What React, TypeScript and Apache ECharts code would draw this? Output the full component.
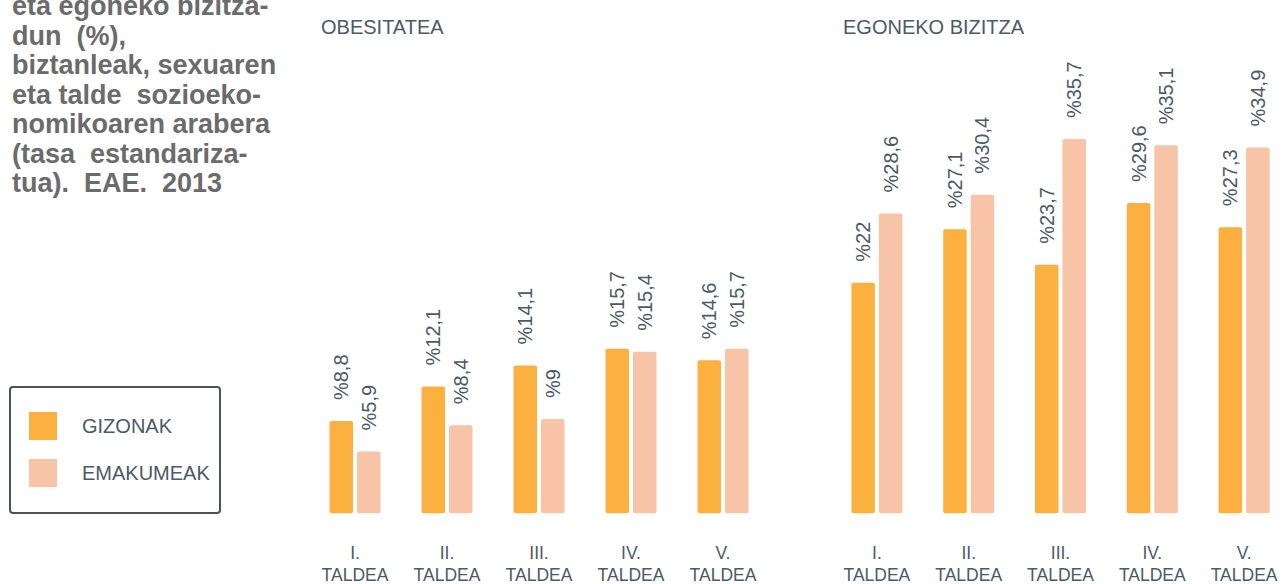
import React, { useEffect, useRef } from "react";
import * as echarts from "echarts";

const categories = ["I.\nTALDEA", "II.\nTALDEA", "III.\nTALDEA", "IV.\nTALDEA", "V.\nTALDEA"];
const obesityMen = [8.8, 12.1, 14.1, 15.7, 14.6];
const obesityWomen = [5.9, 8.4, 9, 15.4, 15.7];
const sedentaryMen = [22, 27.1, 23.7, 29.6, 27.3];
const sedentaryWomen = [28.6, 30.4, 35.7, 35.1, 34.9];
const seriesNames = ["GIZONAK", "EMAKUMEAK"];
const panelTitles = ["OBESITATEA", "EGONEKO BIZITZA"];
const titleLines = [
  "eta egoneko bizitza-",
  "dun  (%),",
  "biztanleak, sexuaren",
  "eta talde  sozioeko-",
  "nomikoaren arabera",
  "(tasa  estandariza-",
  "tua).  EAE.  2013",
];

const MEN_COLOR = "#FBB040";
const WOMEN_COLOR = "#F7C4A8";
const TEXT_COLOR = "#4B5A66";
const FONT = "'Liberation Sans', Arial, sans-serif";

export default function App() {
  const ref = useRef<HTMLDivElement>(null);
  useEffect(() => {
    if (!ref.current) return;
    const chart = echarts.init(ref.current, null, { renderer: "svg" });
    const label = {
      show: true,
      position: "top",
      distance: 21,
      rotate: 90,
      align: "left",
      verticalAlign: "middle",
      fontSize: 20,
      fontFamily: FONT,
      color: TEXT_COLOR,
      formatter: (p: any) => "%" + String(p.value).replace(".", ","),
    };
    const bar = (name: string, data: number[], idx: number, color: string) => ({
      type: "bar",
      name,
      data,
      xAxisIndex: idx,
      yAxisIndex: idx,
      barWidth: 23.5,
      barGap: "17%",
      itemStyle: { color, borderRadius: 2 },
      label,
    });
    const xAxis = (idx: number) => ({
      type: "category",
      gridIndex: idx,
      data: categories,
      axisLine: { show: false },
      axisTick: { show: false },
      axisLabel: {
        margin: 29,
        fontSize: 17.5,
        lineHeight: 22,
        color: TEXT_COLOR,
        fontFamily: FONT,
      },
    });
    const yAxis = (idx: number) => ({
      type: "value",
      gridIndex: idx,
      min: 0,
      max: 40,
      show: false,
      splitLine: { show: false },
    });
    chart.setOption({
      animation: false,
      textStyle: { fontFamily: FONT },
      grid: [
        { left: 309, width: 460, top: 94, height: 419.3, outerBoundsMode: "none", containLabel: false },
        { left: 831, width: 459, top: 94, height: 419.3, outerBoundsMode: "none", containLabel: false },
      ],
      xAxis: [xAxis(0), xAxis(1)],
      yAxis: [yAxis(0), yAxis(1)],
      legend: {
        data: seriesNames,
        orient: "vertical",
        left: 29,
        top: 412,
        itemWidth: 28,
        itemHeight: 28,
        itemGap: 19,
        icon: "rect",
        padding: 0,
        textStyle: { fontSize: 20, color: TEXT_COLOR, fontFamily: FONT, padding: [0, 0, 0, 20] },
        selectedMode: false,
      },
      graphic: [
        {
          type: "rect",
          shape: { x: 10, y: 387, width: 210, height: 126, r: 3 },
          style: { fill: "none", stroke: "#4D5358", lineWidth: 2 },
          silent: true,
        },
        {
          type: "text",
          x: 12,
          y: -8.5,
          style: {
            text: titleLines.join("\n"),
            font: "bold 27px " + FONT,
            lineHeight: 29.5,
            fill: "#6B6B6B",
            verticalAlign: "top",
            align: "left",
          },
        },
        {
          type: "text",
          x: 321,
          y: 26.5,
          style: { text: panelTitles[0], font: "20px " + FONT, fill: TEXT_COLOR, verticalAlign: "middle" },
        },
        {
          type: "text",
          x: 843,
          y: 26.5,
          style: { text: panelTitles[1], font: "20px " + FONT, fill: TEXT_COLOR, verticalAlign: "middle" },
        },
      ],
      series: [
        bar(seriesNames[0], obesityMen, 0, MEN_COLOR),
        bar(seriesNames[1], obesityWomen, 0, WOMEN_COLOR),
        bar(seriesNames[0], sedentaryMen, 1, MEN_COLOR),
        bar(seriesNames[1], sedentaryWomen, 1, WOMEN_COLOR),
      ],
    });
    return () => chart.dispose();
  }, []);
  return (
    <div
      ref={ref}
      style={{ position: "absolute", left: 0, top: 0, width: 1287, height: 584, background: "#fff" }}
    />
  );
}
